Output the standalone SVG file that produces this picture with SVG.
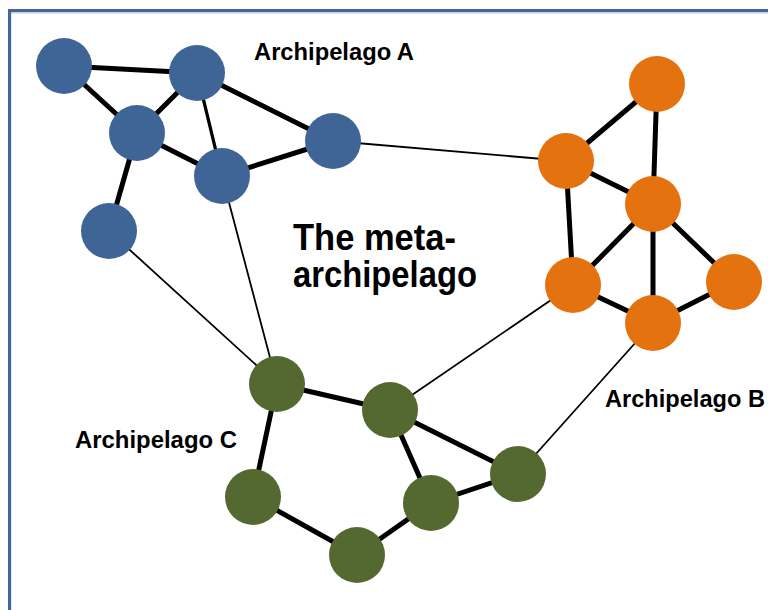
<svg xmlns="http://www.w3.org/2000/svg" width="768" height="610" viewBox="0 0 768 610">
<style>
.e{stroke:#000;fill:none;stroke-linecap:round}
.t{stroke-width:5}
.m{stroke-width:3.2}
.n{stroke-width:1.8}
.a{fill:#3F6597}
.b{fill:#E4720E}
.c{fill:#546930}
.lbl{font-family:"Liberation Sans",Arial,sans-serif;font-weight:bold;fill:#000}
</style>
<rect width="768" height="610" fill="#fff"/>
<rect x="10.5" y="12.5" width="800" height="700" fill="none" stroke="#c8d0dc" stroke-width="2"/>
<rect x="9.5" y="10.5" width="800" height="700" fill="none" stroke="#44679A" stroke-width="3"/>
<g id="connectors">
<line class="e t" x1="64" y1="66" x2="197" y2="73"/>
<line class="e t" x1="64" y1="66" x2="137" y2="133"/>
<line class="e t" x1="197" y1="73" x2="137" y2="133"/>
<line class="e m" x1="197" y1="73" x2="222" y2="176"/>
<line class="e t" x1="197" y1="73" x2="333" y2="141"/>
<line class="e t" x1="137" y1="133" x2="222" y2="176"/>
<line class="e t" x1="222" y1="176" x2="333" y2="141"/>
<line class="e t" x1="137" y1="133" x2="109" y2="231"/>
<line class="e n" x1="333" y1="141" x2="566" y2="161"/>
<line class="e n" x1="109" y1="231" x2="277" y2="384"/>
<line class="e n" x1="222" y1="176" x2="277" y2="384"/>
<line class="e t" x1="657" y1="84" x2="566" y2="161"/>
<line class="e t" x1="657" y1="84" x2="653" y2="204"/>
<line class="e t" x1="566" y1="161" x2="653" y2="204"/>
<line class="e t" x1="566" y1="161" x2="573" y2="285"/>
<line class="e t" x1="653" y1="204" x2="573" y2="285"/>
<line class="e t" x1="653" y1="204" x2="653" y2="323"/>
<line class="e t" x1="653" y1="204" x2="734" y2="282"/>
<line class="e t" x1="573" y1="285" x2="653" y2="323"/>
<line class="e t" x1="734" y1="282" x2="653" y2="323"/>
<line class="e n" x1="573" y1="285" x2="390" y2="410"/>
<line class="e n" x1="653" y1="323" x2="518" y2="474"/>
<line class="e t" x1="277" y1="384" x2="390" y2="410"/>
<line class="e t" x1="277" y1="384" x2="253" y2="497"/>
<line class="e t" x1="390" y1="410" x2="518" y2="474"/>
<line class="e t" x1="390" y1="410" x2="431" y2="503"/>
<line class="e t" x1="253" y1="497" x2="357" y2="555"/>
<line class="e t" x1="357" y1="555" x2="431" y2="503"/>
<line class="e t" x1="431" y1="503" x2="518" y2="474"/>
</g>
<g id="A1"><circle class="a" cx="64" cy="66" r="28"/></g>
<g id="A2"><circle class="a" cx="197" cy="73" r="28"/></g>
<g id="A3"><circle class="a" cx="137" cy="133" r="28"/></g>
<g id="A4"><circle class="a" cx="222" cy="176" r="28"/></g>
<g id="A5"><circle class="a" cx="333" cy="141" r="28"/></g>
<g id="A6"><circle class="a" cx="109" cy="231" r="28"/></g>
<g id="B1"><circle class="b" cx="657" cy="84" r="28"/></g>
<g id="B2"><circle class="b" cx="566" cy="161" r="28"/></g>
<g id="B3"><circle class="b" cx="653" cy="204" r="28"/></g>
<g id="B4"><circle class="b" cx="573" cy="285" r="28"/></g>
<g id="B5"><circle class="b" cx="734" cy="282" r="28"/></g>
<g id="B6"><circle class="b" cx="653" cy="323" r="28"/></g>
<g id="C1"><circle class="c" cx="277" cy="384" r="28"/></g>
<g id="C2"><circle class="c" cx="390" cy="410" r="28"/></g>
<g id="C3"><circle class="c" cx="253" cy="497" r="28"/></g>
<g id="C4"><circle class="c" cx="357" cy="555" r="28"/></g>
<g id="C5"><circle class="c" cx="431" cy="503" r="28"/></g>
<g id="C6"><circle class="c" cx="518" cy="474" r="28"/></g>
<g id="labelA"><text class="lbl" x="254" y="60" font-size="23" textLength="160" lengthAdjust="spacingAndGlyphs">Archipelago A</text></g>
<g id="labelB"><text class="lbl" x="605" y="407" font-size="23" textLength="160" lengthAdjust="spacingAndGlyphs">Archipelago B</text></g>
<g id="labelC"><text class="lbl" x="75" y="448" font-size="23" textLength="162" lengthAdjust="spacingAndGlyphs">Archipelago C</text></g>
<g id="title">
<text class="lbl" x="293" y="250" font-size="37" textLength="163" lengthAdjust="spacingAndGlyphs">The meta-</text>
<text class="lbl" x="293" y="287" font-size="37" textLength="184" lengthAdjust="spacingAndGlyphs">archipelago</text>
</g>
</svg>
